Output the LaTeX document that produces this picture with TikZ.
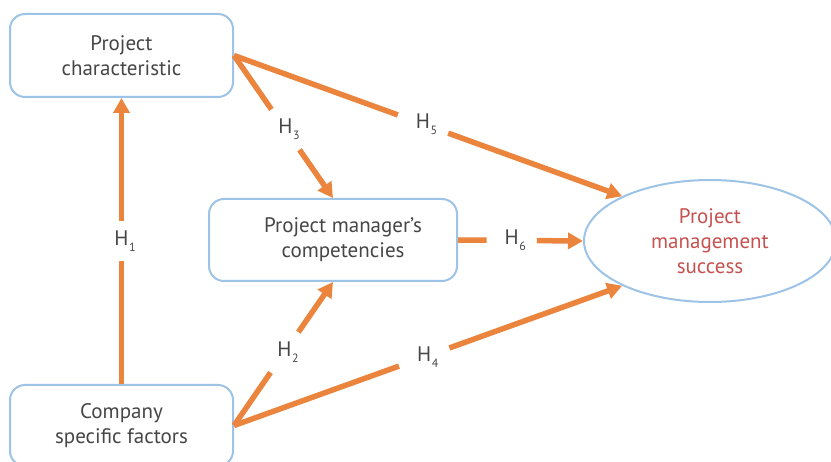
\documentclass[tikz,border=0pt]{standalone}
\usepackage{fontspec}
\setmainfont{PT Sans}
\usetikzlibrary{arrows.meta,shapes.geometric}
\definecolor{arrowor}{HTML}{EB843D}
\definecolor{boxblue}{HTML}{9DC3E6}
\definecolor{txtgrey}{HTML}{464646}
\definecolor{succred}{HTML}{C65250}
\newcommand\hsub[1]{H\rlap{\kern0.5pt\raisebox{-6pt}{\fontsize{12}{12}\selectfont #1}}}
\begin{document}
\begin{tikzpicture}[x=1pt,y=-1pt,
  box/.style={draw=boxblue,line width=2pt,rounded corners=15pt,fill=white,inner sep=0pt},
  boxtext/.style={align=center,text=txtgrey,font=\fontsize{21}{25}\selectfont,inner sep=0pt},
  goal/.style={ellipse,draw=boxblue,line width=2pt,fill=white,align=center,text=succred,
    font=\fontsize{21}{25}\selectfont,inner sep=0pt,minimum width=252pt,minimum height=122pt},
  hyp/.style={draw=arrowor,line width=5.5pt},
  hyparr/.style={hyp,-{Triangle[length=15pt,width=16pt]}},
  hlab/.style={minimum width=50pt,minimum height=40pt,inner sep=0pt,text=txtgrey,
    font=\fontsize{21}{25}\selectfont}
]
\useasboundingbox (0,0) rectangle (831,462);
\clip (0,0) rectangle (831,462);

% boxes
\node[box,boxtext,minimum width=223pt,minimum height=83pt] (box1) at (121.5,55.5)
  {Project\\characteristic};
\node[box,minimum width=248pt,minimum height=82pt] (box2) at (333,240) {};
\node[boxtext] (box2t) at (343,240) {Project manager’s\\competencies};
\node[box,boxtext,minimum width=223pt,minimum height=81pt] (box3) at (121.5,425.5)
  {Company\\specific factors};
\node[goal] (ell) at (710,241) {Project\\management\\success};

% H1
\path (box3.north) -- (box1.south) node[hlab,pos=0.5] (h1) {\hsub{1}};
\draw[hyp] (box3.north) -- (h1);
\draw[hyparr] (h1) -- (box1.south);
% H3
\path (box1.east) -- (box2.north) node[hlab,pos=0.52] (h3) {\hsub{3}};
\draw[hyp] (box1.east) -- (h3);
\draw[hyparr] (h3) -- (box2.north);
% H5
\path (box1.east) -- (ell.153) node[hlab,pos=0.487] (h5) {\hsub{5}};
\draw[hyp] (box1.east) -- (h5);
\draw[hyparr] (h5) -- (ell.153);
% H6
\path (box2.east) -- (ell.west) node[hlab,pos=0.43] (h6) {\hsub{6}};
\draw[hyp] (box2.east) -- (h6);
\draw[hyparr] (h6) -- (ell.west);
% H2
\path (box3.east) -- (box2.south) node[hlab,pos=0.51] (h2) {\hsub{2}};
\draw[hyp] (box3.east) -- (h2);
\draw[hyparr] (h2) -- (box2.south);
% H4
\path (box3.east) -- (ell.207) node[hlab,pos=0.49] (h4) {\hsub{4}};
\draw[hyp] (box3.east) -- (h4);
\draw[hyparr] (h4) -- (ell.207);
\end{tikzpicture}
\end{document}
